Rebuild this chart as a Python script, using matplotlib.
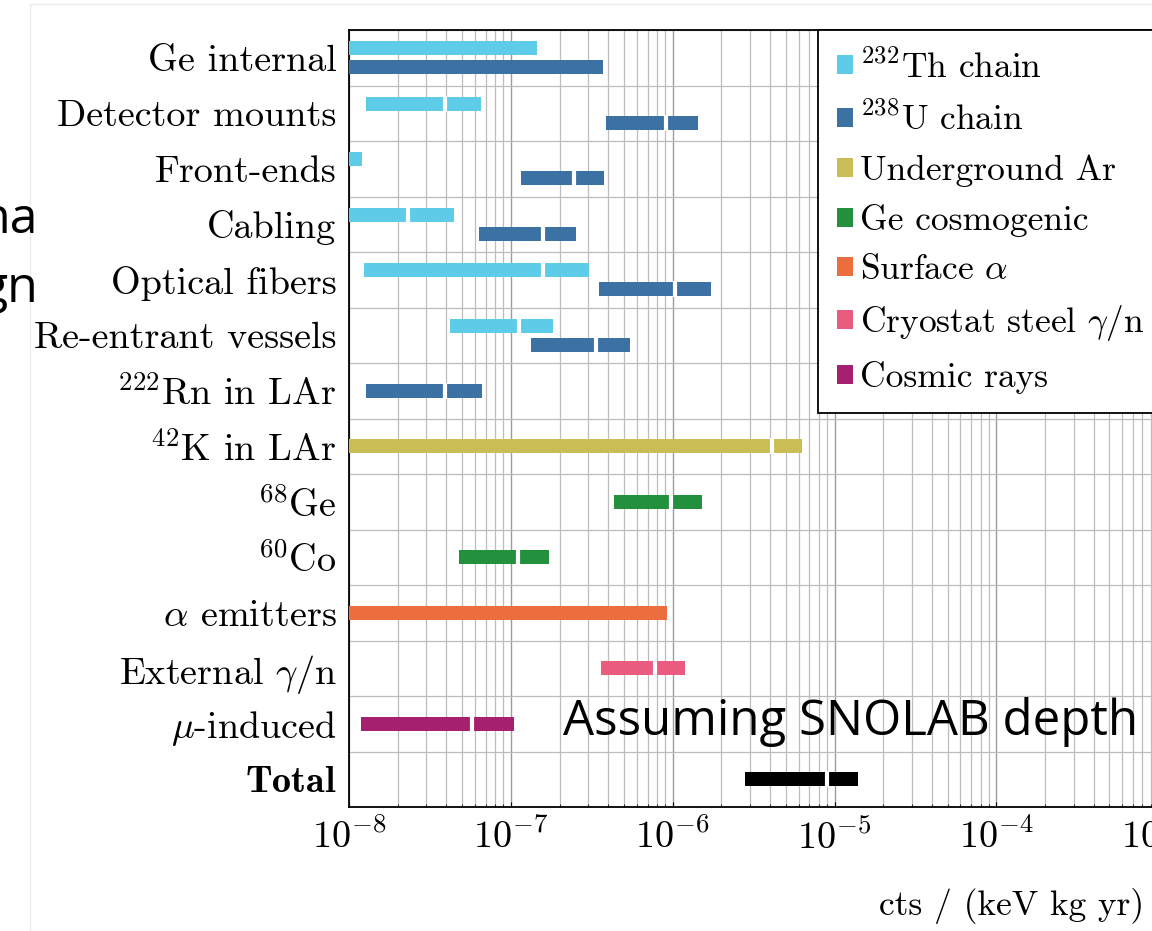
import numpy as np
import matplotlib.pyplot as plt
from matplotlib.patches import Patch, Rectangle

plt.rcParams['font.family'] = ['cmr10', 'DejaVu Serif']
plt.rcParams['mathtext.fontset'] = 'cm'
plt.rcParams['axes.formatter.use_mathtext'] = True
plt.rcParams['axes.unicode_minus'] = False

# rows, top to bottom
categories = ['Ge internal', 'Detector mounts', 'Front-ends', 'Cabling',
              'Optical fibers', 'Re-entrant vessels', r'$^{222}$Rn in LAr',
              r'$^{42}$K in LAr', r'$^{68}$Ge', r'$^{60}$Co', r'$\alpha$ emitters',
              r'External $\gamma/$n', r'$\mu$-induced', r'$\mathbf{Total}$']

series_names = [r'$^{232}$Th chain', r'$^{238}$U chain', 'Underground Ar',
                'Ge cosmogenic', r'Surface $\alpha$', r'Cryostat steel $\gamma/$n',
                'Cosmic rays', 'Total']
series_colors = ['#5ecbe8', '#3c71a3', '#cbbd55', '#23903d', '#ec6d3d',
                 '#e95b7f', '#a5206f', '#000000']

# one entry per bar: row, series, low end, split point, high end
bar_row = [0, 0, 1, 1, 2, 2, 3, 3, 4, 4, 5, 5, 6, 7, 8, 9, 10, 11, 12, 13]
bar_series = [0, 1, 0, 1, 0, 1, 0, 1, 0, 1, 0, 1, 1, 2, 3, 3, 4, 5, 6, 7]
bar_lo = [5e-9, 5e-9, 1.27e-8, 3.85e-7, 5e-9, 1.16e-7, 5e-9, 6.38e-8,
          1.24e-8, 3.53e-7, 4.22e-8, 1.34e-7, 1.27e-8, 5e-9, 4.31e-7, 4.8e-8,
          5e-9, 3.63e-7, 1.19e-8, 2.79e-6]
bar_mid = [np.nan, np.nan, 3.93e-8, 9.06e-7, np.nan, 2.44e-7, 2.32e-8, 1.57e-7,
           1.59e-7, 1.03e-6, 1.13e-7, 3.38e-7, 3.93e-8, 4.10e-6, 9.72e-7, 1.1e-7,
           np.nan, 7.74e-7, 5.78e-8, 9.0e-6]
bar_hi = [1.46e-7, 3.69e-7, 6.56e-8, 1.43e-6, 1.2e-8, 3.74e-7, 4.47e-8, 2.51e-7,
          3.06e-7, 1.72e-6, 1.83e-7, 5.42e-7, 6.66e-8, 6.29e-6, 1.51e-6, 1.73e-7,
          9.18e-7, 1.19e-6, 1.04e-7, 1.4e-5]

W, H = 1152, 931
fig = plt.figure(figsize=(W / 100, H / 100), dpi=100)
ax = fig.add_axes([349 / W, 1 - 807 / H, 971 / W, 777 / H])

h = 0.25
for i in range(len(bar_row)):
    r = bar_row[i]
    n = bar_row.count(r)
    if n == 2:
        y = r - 0.17 if bar_series[i] == 0 else r + 0.17
    else:
        y = r
    c = series_colors[bar_series[i]]
    ax.barh(y, bar_hi[i] - bar_lo[i], left=bar_lo[i], height=h, color=c, zorder=3)
    if not np.isnan(bar_mid[i]):
        ax.plot([bar_mid[i], bar_mid[i]], [y - h / 2 - 0.02, y + h / 2 + 0.02],
                color='white', lw=3, zorder=4, solid_capstyle='butt')

ax.set_xscale('log')
ax.set_xlim(1e-8, 1e-2)
ax.set_ylim(len(categories) - 0.5, -0.5)
ax.set_yticks(range(len(categories)))
ax.set_yticklabels(categories)
ax.set_yticks(np.arange(-0.5, len(categories), 1), minor=True)
ax.tick_params(axis='y', which='both', length=0, labelsize=27.5, pad=9)
ax.tick_params(axis='x', which='both', direction='in', labelsize=27.5, pad=8)
ax.grid(True, axis='x', which='major', color='#9c9c9c', lw=1.0, zorder=0)
ax.grid(True, axis='x', which='minor', color='#bdbdbd', lw=0.9, zorder=0)
ax.grid(True, axis='y', which='minor', color='#bdbdbd', lw=0.9, zorder=0)
for s in ax.spines.values():
    s.set_linewidth(1.3)

ax.set_xlabel('cts / (keV kg yr)', fontsize=25.5)
ax.xaxis.set_label_coords((1012 - 349) / 971, -0.104)

handles = [Patch(facecolor=c, edgecolor='none') for c in series_colors[:7]]
leg = ax.legend(handles, series_names[:7], loc='upper left',
                bbox_to_anchor=(818 / W, 1 - 30 / H), bbox_transform=fig.transFigure,
                fontsize=25.5, frameon=True, fancybox=False, framealpha=1,
                edgecolor='black', handlelength=0.45, handleheight=0.45,
                handletextpad=0.2, labelspacing=0.49, borderpad=0.55,
                borderaxespad=0)
leg.get_frame().set_linewidth(1.3)
leg.set_zorder(10)

# slide overlay texts
fig.text(563 / W, 1 - 735 / H, 'Assuming SNOLAB depth', fontsize=35.5,
         family=['Open Sans', 'DejaVu Sans'], ha='left', va='baseline', zorder=20)
fig.text(38 / W, 1 - 233 / H, 'na', fontsize=36, family=['Open Sans', 'DejaVu Sans'],
         ha='right', va='baseline')
fig.text(38 / W, 1 - 302 / H, 'gn', fontsize=36, family=['Open Sans', 'DejaVu Sans'],
         ha='right', va='baseline')
fig.add_artist(Rectangle((30 / W, 0), 1.0, 1 - 4 / H, transform=fig.transFigure,
                         fill=False, edgecolor='#ececec', lw=1.0))

fig.savefig('out.png', dpi=100)
